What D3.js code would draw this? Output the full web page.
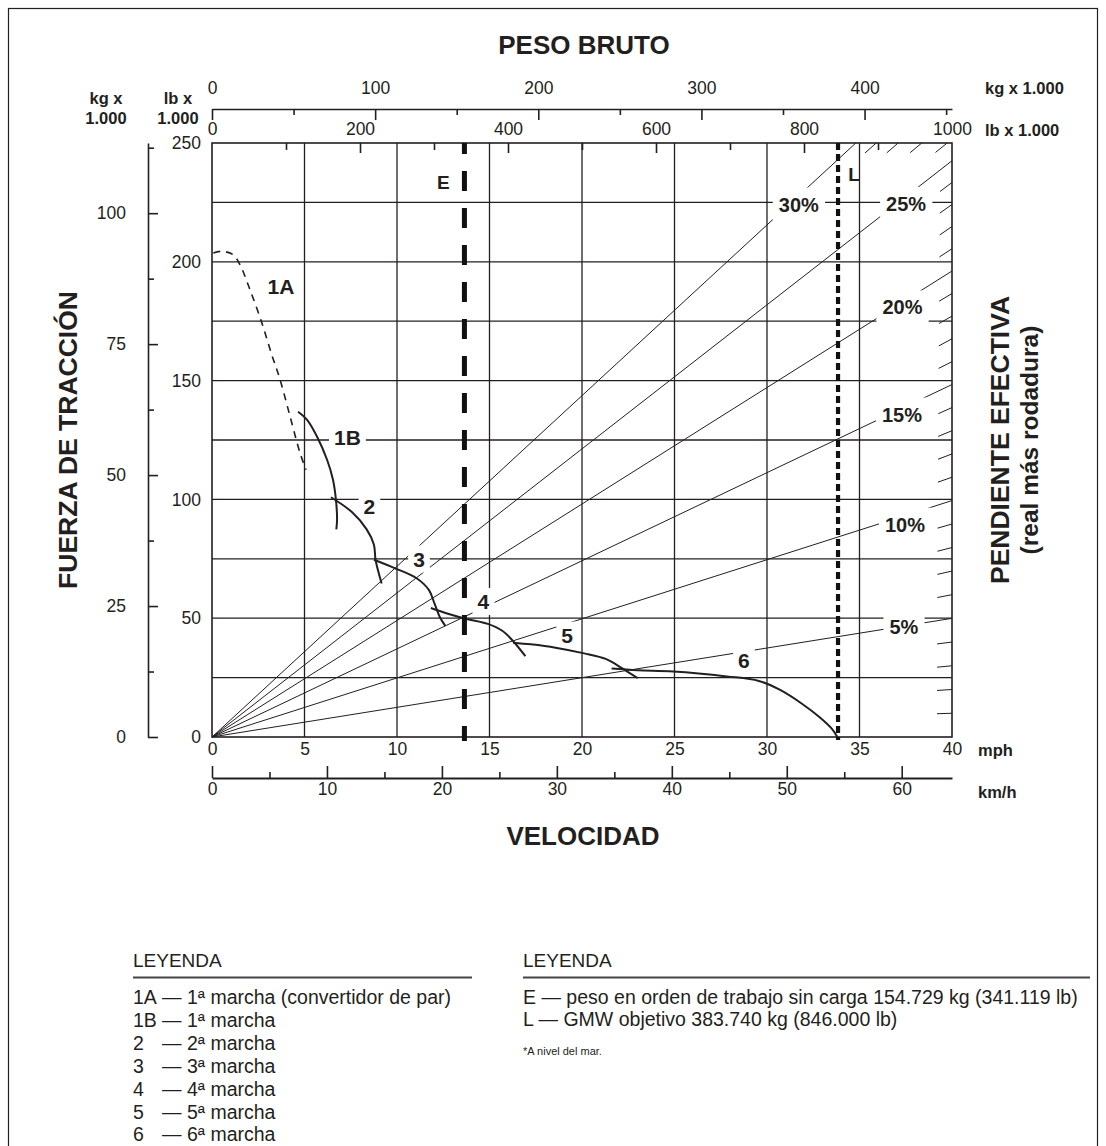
<!DOCTYPE html>
<html>
<head>
<meta charset="utf-8">
<script src="https://cdn.jsdelivr.net/npm/d3@7"></script>
<style>
  body { margin: 0; background: #fff; }
  svg { display: block; }
  text { font-family: "Liberation Sans", Arial, Helvetica, sans-serif; fill: #231f20; }
</style>
</head>
<body>
<svg id="chart" width="1106" height="1146"></svg>
<script>
// ---- Rimpull curves: [speed mph, rimpull lb x 1000] ----
const gear1A = [[0.07,203.7],[0.52,204.4],[1.14,203.0],[1.51,198.8],[2.05,188.3],[2.69,174.4],[3.23,160.9],[3.68,150.4],[4.22,134.9],[4.76,119.5],[5.08,112.5]];
const gear1B = [[4.65,136.9],[5.14,133.5],[5.68,126.4],[6.22,116.7],[6.54,108.3],[6.70,99.8],[6.76,91.4],[6.72,87.4]];
const gear2  = [[6.43,100.9],[7.59,94.5],[8.36,87.4],[8.75,81.0],[8.84,74.6],[9.04,68.2],[9.17,64.6]];
const gear3  = [[8.75,74.6],[9.90,71.0],[11.06,66.8],[11.73,61.8],[12.03,56.1],[12.32,50.4],[12.61,46.8]];
const gear4  = [[11.83,54.3],[12.80,51.8],[13.76,49.7],[14.91,47.6],[15.69,44.7],[16.27,40.4],[16.94,34.0]];
const gear5  = [[16.27,39.7],[17.23,39.0],[18.57,37.6],[20.12,35.2],[21.28,32.9],[21.85,30.5],[22.43,27.6],[23.01,24.8]];
const gear6  = [[21.60,28.8],[23.01,28.1],[24.94,27.6],[27.83,25.5],[29.56,23.6],[30.71,19.8],[31.87,14.1],[32.83,8.4],[33.51,3.4],[33.80,0.0]];
const gearNames = ["1A","1B","2","3","4","5","6"];
const gearSeries = [gear1A, gear1B, gear2, gear3, gear4, gear5, gear6];

// ---- Effective grade lines (%) and the 1 % grade scale along the border ----
const gradeLines = [5, 10, 15, 20, 25, 30];
const gradeScaleMarks = [1,2,3,4,6,7,8,9,11,12,13,14,16,17,18,19,21,22,23,24,26,27,28,29];

// ---- Reference weights (lb x 1000) ----
const weightMarks = ["E", "L"];
const weightMarkLb = [341.119, 846.0];

// ---- Axis tick values ----
const mphTicks = [0,5,10,15,20,25,30,35,40];
const kmhTicks = [0,10,20,30,40,50,60];
const kmhMinorTicks = [5,15,25,35,45,55];
const rimpullLbTicks = [0,50,100,150,200,250];
const rimpullGridLb = [25,50,75,100,125,150,175,200,225];
const rimpullKgTicks = [0,25,50,75,100];
const rimpullKgMinor = [12.5,37.5,62.5,87.5,112.5];
const weightKgTicks = [0,100,200,300,400];
const weightKgMinor = [50,150,250,350,450];
const weightLbTicks = [0,200,400,600,800,1000];
const weightLbMinor = [100,300,500,700,900];

// ---- Legend text ----
const legendGears = [
  ["1A", "— 1ª marcha (convertidor de par)"],
  ["1B", "— 1ª marcha"],
  ["2",  "— 2ª marcha"],
  ["3",  "— 3ª marcha"],
  ["4",  "— 4ª marcha"],
  ["5",  "— 5ª marcha"],
  ["6",  "— 6ª marcha"]
];
const legendWeights = [
  "E — peso en orden de trabajo sin carga 154.729 kg (341.119 lb)",
  "L — GMW objetivo 383.740 kg (846.000 lb)"
];
const footnote = "*A nivel del mar.";

// ================= drawing =================
const INK = "#231f20";
const LB_TO_KG = 0.45359237, MPH_TO_KMH = 1.609344;
const X0 = 212, X1 = 952, Y0 = 737, Y1 = 143;

const svg = d3.select("#chart");
svg.append("rect").attr("width", 1106).attr("height", 1146).attr("fill", "#fff");
svg.append("rect").attr("x", 8.5).attr("y", 8.5).attr("width", 1089).attr("height", 1160)
  .attr("fill", "none").attr("stroke", INK).attr("stroke-width", 1.2);

const xMph = d3.scaleLinear().domain([0, 40]).range([X0, X1]);
const xKmh = d3.scaleLinear().domain([0, 40 * MPH_TO_KMH]).range([X0, X1]);
const xLb  = d3.scaleLinear().domain([0, 1000]).range([X0, X1]);
const xKg  = d3.scaleLinear().domain([0, 1000 * LB_TO_KG]).range([X0, X1]);
const yLb  = d3.scaleLinear().domain([0, 250]).range([Y0, Y1]);
const yKg  = d3.scaleLinear().domain([0, 250 * LB_TO_KG]).range([Y0, Y1]);
const plain = d3.format("d");

// grid
const grid = svg.append("g").attr("stroke", INK).attr("stroke-width", 1.3);
grid.selectAll("line.v").data(mphTicks.slice(1, -1)).join("line")
  .attr("x1", d => xMph(d)).attr("x2", d => xMph(d)).attr("y1", Y1).attr("y2", Y0);
grid.selectAll("line.h").data(rimpullGridLb).join("line")
  .attr("x1", X0).attr("x2", X1).attr("y1", d => yLb(d)).attr("y2", d => yLb(d));

// grade line end point: rimpull = weight * sin(atan(grade)), clipped at the chart border
function gradeEnd(g) {
  const s = Math.sin(Math.atan(g / 100));
  const wMax = xLb.domain()[1], rMax = yLb.domain()[1];
  return wMax * s <= rMax ? [wMax, wMax * s] : [rMax / s, rMax];
}
const gradeG = svg.append("g").attr("stroke", INK).attr("stroke-width", 1);
gradeG.selectAll("line.grade").data(gradeLines).join("line")
  .attr("x1", xLb(0)).attr("y1", yLb(0))
  .attr("x2", d => xLb(gradeEnd(d)[0])).attr("y2", d => yLb(gradeEnd(d)[1]));
gradeG.selectAll("line.mark").data(gradeScaleMarks).join("line")
  .each(function(g) {
    const e = gradeEnd(g);
    const ex = xLb(e[0]), ey = yLb(e[1]);
    const dx = xLb(0) - ex, dy = yLb(0) - ey, len = Math.hypot(dx, dy);
    d3.select(this).attr("x1", ex).attr("y1", ey)
      .attr("x2", ex + dx / len * 15).attr("y2", ey + dy / len * 15);
  });

// labels sitting on lines (white boxes break the lines beneath)
function boxedLabel(parent, x, y, txt, size, padX, padY) {
  const g = parent.append("g");
  const r = g.append("rect").attr("fill", "#fff");
  const t = g.append("text").attr("x", x).attr("y", y).attr("text-anchor", "middle")
    .attr("dominant-baseline", "central").attr("font-weight", "bold")
    .attr("font-size", size).text(txt);
  const b = t.node().getBBox();
  r.attr("x", b.x - padX).attr("y", b.y - padY).attr("width", b.width + 2 * padX).attr("height", b.height + 2 * padY);
}
const labelLayer = svg.append("g");
// gear label anchors (mph, lb x 1000)
const gearLabelAt = {"1A":[3.73,189.5],"1B":[7.32,126.0],"2":[8.51,96.9],"3":[11.19,74.9],"4":[14.67,57.0],"5":[19.2,42.9],"6":[28.75,32.0]};
gearNames.forEach(n => boxedLabel(labelLayer, xMph(gearLabelAt[n][0]), yLb(gearLabelAt[n][1]), n, 21, 5, n === "1A" ? 0 : 2));
// grade label anchors (weight lb x 1000, rimpull lb x 1000)
const gradeLabelAt = {30:[793,224.1],25:[938,224.3],20:[933,180.8],15:[932.4,135.7],10:[936.5,89.4],5:[935,46.1]};
gradeLines.forEach(g => boxedLabel(labelLayer, xLb(gradeLabelAt[g][0]), yLb(gradeLabelAt[g][1]), g + "%", 20, 6, 6));

// rimpull curves
const line = d3.line().x(d => xMph(d[0])).y(d => yLb(d[1])).curve(d3.curveCatmullRom.alpha(0.5));
svg.append("g").selectAll("path").data(gearSeries).join("path")
  .attr("d", line).attr("fill", "none").attr("stroke", INK)
  .attr("stroke-width", (d, i) => i === 0 ? 1.6 : 2)
  .attr("stroke-dasharray", (d, i) => i === 0 ? "7,6" : null);

// plot border
svg.append("rect").attr("x", X0).attr("y", Y1).attr("width", X1 - X0).attr("height", Y0 - Y1)
  .attr("fill", "none").attr("stroke", INK).attr("stroke-width", 1.6);

// E and L weight lines
const wl = svg.append("g");
wl.append("line").attr("x1", xLb(weightMarkLb[0])).attr("x2", xLb(weightMarkLb[0]))
  .attr("y1", Y1).attr("y2", Y0 + 4).attr("stroke", "#111").attr("stroke-width", 5)
  .attr("stroke-dasharray", "20,17").attr("stroke-dashoffset", 9);
wl.append("line").attr("x1", xLb(weightMarkLb[1])).attr("x2", xLb(weightMarkLb[1]))
  .attr("y1", Y1).attr("y2", Y0 + 3).attr("stroke", "#111").attr("stroke-width", 4.2)
  .attr("stroke-dasharray", "7,4");
wl.append("text").attr("x", xLb(weightMarkLb[0]) - 21).attr("y", 182).attr("text-anchor", "middle")
  .attr("dominant-baseline", "central").attr("font-weight", "bold").attr("font-size", 19).text(weightMarks[0]);
wl.append("text").attr("x", xLb(weightMarkLb[1]) + 16).attr("y", 174).attr("text-anchor", "middle")
  .attr("dominant-baseline", "central").attr("font-weight", "bold").attr("font-size", 19).text(weightMarks[1]);

// axis styling helper
function styleAxis(g, w) {
  g.selectAll("path.domain").attr("stroke", INK).attr("stroke-width", w || 1.6);
  g.selectAll(".tick line").attr("stroke", INK).attr("stroke-width", 1.6);
  g.selectAll("text").attr("fill", INK).attr("font-size", 17.5)
    .attr("font-family", "'Liberation Sans', Arial, sans-serif");
}

// top kg axis
const kgTop = svg.append("g").attr("transform", "translate(0,109)");
kgTop.call(d3.axisBottom(xKg).tickValues(weightKgTicks).tickSizeInner(11).tickSizeOuter(0).tickFormat(""));
kgTop.append("g").call(d3.axisBottom(xKg).tickValues(weightKgMinor).tickSize(6).tickFormat("")).select(".domain").remove();
kgTop.append("g").call(d3.axisTop(xKg).tickValues(weightKgTicks).tickSize(0).tickPadding(15).tickFormat(plain)).select(".domain").remove();
styleAxis(kgTop);

// top lb axis (on chart border)
const lbTop = svg.append("g").attr("transform", `translate(0,${Y1})`);
lbTop.call(d3.axisBottom(xLb).tickValues(weightLbTicks.slice(1, -1)).tickSize(10).tickFormat("")).select(".domain").remove();
lbTop.append("g").call(d3.axisBottom(xLb).tickValues(weightLbMinor).tickSize(7).tickFormat("")).select(".domain").remove();
lbTop.append("g").call(d3.axisTop(xLb).tickValues(weightLbTicks).tickSize(0).tickPadding(8).tickFormat(plain)).select(".domain").remove();
styleAxis(lbTop);

// left kg rimpull axis
const kgLeft = svg.append("g").attr("transform", "translate(148,0)");
kgLeft.call(d3.axisRight(yKg).tickValues(rimpullKgTicks).tickSizeInner(10).tickSizeOuter(0).tickFormat(""));
kgLeft.append("g").call(d3.axisRight(yKg).tickValues(rimpullKgMinor).tickSize(6).tickFormat("")).select(".domain").remove();
kgLeft.append("g").call(d3.axisLeft(yKg).tickValues(rimpullKgTicks).tickSize(0).tickPadding(22).tickFormat(plain)).select(".domain").remove();
styleAxis(kgLeft);

// left lb rimpull labels
const lbLeft = svg.append("g").attr("transform", `translate(${X0},0)`);
lbLeft.call(d3.axisLeft(yLb).tickValues(rimpullLbTicks).tickSize(0).tickPadding(11).tickFormat(plain)).select(".domain").remove();
styleAxis(lbLeft);

// bottom mph labels
const mphAxis = svg.append("g").attr("transform", `translate(0,${Y0})`);
mphAxis.call(d3.axisBottom(xMph).tickValues(mphTicks).tickSize(0).tickPadding(6).tickFormat(plain)).select(".domain").remove();
styleAxis(mphAxis);

// km/h axis
const kmhAxis = svg.append("g").attr("transform", "translate(0,778)");
kmhAxis.call(d3.axisTop(xKmh).tickValues(kmhTicks).tickSizeInner(12).tickSizeOuter(0).tickFormat(""));
kmhAxis.append("g").call(d3.axisTop(xKmh).tickValues(kmhMinorTicks).tickSize(6).tickFormat("")).select(".domain").remove();
kmhAxis.append("g").call(d3.axisBottom(xKmh).tickValues(kmhTicks).tickSize(0).tickPadding(5).tickFormat(plain)).select(".domain").remove();
styleAxis(kmhAxis, 1.8);

// unit labels
const units = svg.append("g").attr("font-weight", "bold").attr("font-size", 16.5);
[["kg x", 106, 98], ["1.000", 106, 118], ["lb x", 178, 98], ["1.000", 178, 118]].forEach(d =>
  units.append("text").attr("x", d[1]).attr("y", d[2]).attr("text-anchor", "middle")
    .attr("dominant-baseline", "central").text(d[0]));
[["kg x 1.000", 985, 88], ["lb x 1.000", 985, 130], ["mph", 978, 750], ["km/h", 978, 792]].forEach(d =>
  units.append("text").attr("x", d[1]).attr("y", d[2]).attr("dominant-baseline", "central").text(d[0]));

// titles
const titles = svg.append("g").attr("font-weight", "bold").attr("text-anchor", "middle");
titles.append("text").attr("x", 584).attr("y", 45).attr("dominant-baseline", "central").attr("font-size", 26).text("PESO BRUTO");
titles.append("text").attr("x", 583).attr("y", 836).attr("dominant-baseline", "central").attr("font-size", 26).text("VELOCIDAD");
titles.append("text").attr("transform", "translate(68,440) rotate(-90)").attr("dominant-baseline", "central")
  .attr("font-size", 26.5).text("FUERZA DE TRACCIÓN");
titles.append("text").attr("transform", "translate(1000,440) rotate(-90)").attr("dominant-baseline", "central")
  .attr("font-size", 26.5).text("PENDIENTE EFECTIVA");
titles.append("text").attr("transform", "translate(1029,440) rotate(-90)").attr("dominant-baseline", "central")
  .attr("font-size", 24.5).text("(real más rodadura)");

// legends
const leg = svg.append("g").attr("font-size", 19.5);
function legendHeader(x, x2) {
  leg.append("text").attr("x", x).attr("y", 967).attr("font-size", 19).text("LEYENDA");
  leg.append("line").attr("x1", x).attr("x2", x2).attr("y1", 977.5).attr("y2", 977.5)
    .attr("stroke", "#444").attr("stroke-width", 2);
}
legendHeader(133, 472);
legendHeader(523, 1090);
legendGears.forEach((d, i) => {
  const y = 1004 + i * 22.9;
  leg.append("text").attr("x", 133).attr("y", y).text(d[0]);
  leg.append("text").attr("x", 162).attr("y", y).text(d[1]);
});
legendWeights.forEach((d, i) => {
  leg.append("text").attr("x", 523).attr("y", 1004 + i * 21.5).text(d);
});
leg.append("text").attr("x", 523).attr("y", 1055).attr("font-size", 11).text(footnote);
</script>
</body>
</html>
